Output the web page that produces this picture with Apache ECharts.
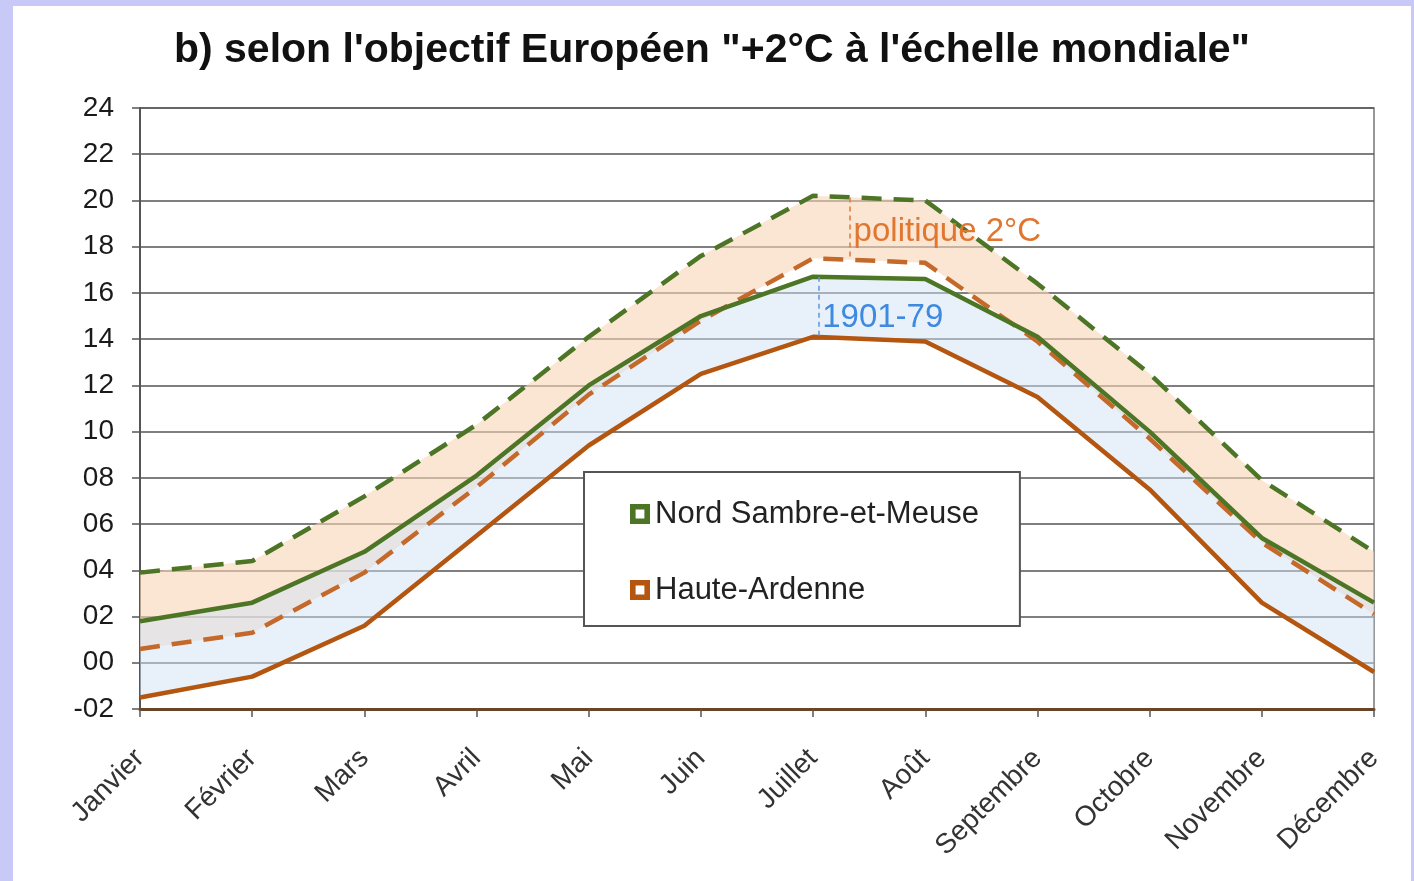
<!DOCTYPE html>
<html>
<head>
<meta charset="utf-8">
<title>Températures mensuelles</title>
<script src="https://cdn.jsdelivr.net/npm/echarts@6/dist/echarts.min.js"></script>
<style>
  html, body { margin: 0; padding: 0; background: #c9c9f7; }
  #main { position: absolute; left: 13px; top: 6px; width: 1398px; height: 875px; background: #fff; }
</style>
</head>
<body>
<div id="main"></div>
<script>
// mois et valeurs (°C)
var mois = ['Janvier', 'Février', 'Mars', 'Avril', 'Mai', 'Juin', 'Juillet', 'Août', 'Septembre', 'Octobre', 'Novembre', 'Décembre'];
var nordRef  = [1.8, 2.6, 4.8, 8.1, 12.0, 15.0, 16.7, 16.6, 14.1, 10.0, 5.4, 2.6];
var hauteRef = [-1.5, -0.6, 1.6, 5.5, 9.4, 12.5, 14.1, 13.9, 11.5, 7.5, 2.6, -0.4];
var nord2C   = [3.9, 4.4, 7.2, 10.3, 14.1, 17.6, 20.2, 20.0, 16.4, 12.5, 7.9, 4.8];
var haute2C  = [0.6, 1.3, 3.9, 7.6, 11.6, 14.8, 17.5, 17.3, 13.9, 9.7, 5.2, 2.1];

var vert = '#4d7526', orange = '#b4560f', orangeTir = '#c4692a';

function ecart(haut, bas) {
  var r = [];
  for (var i = 0; i < haut.length; i++) r.push(Math.round((haut[i] - bas[i]) * 100) / 100);
  return r;
}
function pad(v) {
  var s = String(Math.abs(v));
  if (s.length < 2) s = '0' + s;
  return (v < 0 ? '-' : '') + s;
}

var chart = echarts.init(document.getElementById('main'));
var hole = 'path://M0,0H10V10H0Z M2.8,2.8V7.2H7.2V2.8Z';
var cache = { lineStyle: { opacity: 0 }, symbol: 'none', silent: true };

// repères entre deux mois (axe x continu caché)
var xPolitique = 6.33, xRef = 6.05;

chart.setOption({
  animation: false,
  title: {
    text: 'b) selon l\'objectif Européen "+2°C à l\'échelle mondiale"',
    left: 'center',
    top: 19,
    textStyle: { fontFamily: 'Liberation Sans', fontWeight: 'bold', fontSize: 41, color: '#111' }
  },
  grid: {
    left: 127, right: 37, top: 102, bottom: 172,
    show: true, borderColor: '#777', borderWidth: 1.5, backgroundColor: 'transparent'
  },
  legend: {
    orient: 'vertical',
    left: 571, top: 466,
    padding: [26, 41, 20, 46],
    itemGap: 44,
    itemWidth: 20, itemHeight: 20,
    backgroundColor: '#fff',
    borderColor: '#555', borderWidth: 2,
    textStyle: { fontFamily: 'Liberation Sans', fontSize: 31, color: '#222', lineHeight: 32 },
    data: [
      { name: 'Nord Sambre-et-Meuse', icon: hole },
      { name: 'Haute-Ardenne', icon: hole }
    ]
  },
  xAxis: [{
    type: 'category',
    data: mois,
    boundaryGap: false,
    axisLine: { onZero: false, lineStyle: { color: '#6a4426', width: 3 } },
    axisTick: { show: true, length: 8, lineStyle: { color: '#555', width: 1.5 } },
    axisLabel: { rotate: 45, margin: 45, fontFamily: 'Liberation Sans', fontSize: 28, color: '#333', interval: 0 },
    splitLine: { show: false }
  }, {
    type: 'value', min: 0, max: 11, show: false
  }],
  yAxis: {
    type: 'value',
    min: -2, max: 24, interval: 2,
    axisLine: { show: true, lineStyle: { color: '#555', width: 2 } },
    axisTick: { show: true, length: 8, lineStyle: { color: '#555', width: 1.5 } },
    axisLabel: { formatter: pad, margin: 26, fontFamily: 'Liberation Sans', fontSize: 28, color: '#1a1a1a' },
    splitLine: { lineStyle: { color: '#555', width: 1.5 } }
  },
  series: [
    Object.assign({ name: 'base2C', type: 'line', stack: 'p', stackStrategy: 'all', data: haute2C }, cache),
    Object.assign({ name: 'bande2C', type: 'line', stack: 'p', stackStrategy: 'all', data: ecart(nord2C, haute2C),
      areaStyle: { color: 'rgba(248,212,182,0.6)', opacity: 1 } }, cache),
    {
      name: 'Haute-Ardenne +2°C', type: 'line', data: haute2C, symbol: 'none', silent: true,
      lineStyle: { color: orangeTir, width: 4.5, type: [20, 12] }
    },
    {
      name: 'Nord Sambre-et-Meuse +2°C', type: 'line', data: nord2C, symbol: 'none', silent: true,
      lineStyle: { color: vert, width: 4.5, type: [20, 12] }
    },
    Object.assign({ name: 'baseRef', type: 'line', stack: 'r', stackStrategy: 'all', data: hauteRef }, cache),
    Object.assign({ name: 'bandeRef', type: 'line', stack: 'r', stackStrategy: 'all', data: ecart(nordRef, hauteRef),
      areaStyle: { color: 'rgba(209,227,245,0.5)', opacity: 1 } }, cache),
    {
      name: 'Nord Sambre-et-Meuse', type: 'line', data: nordRef, symbol: 'none',
      itemStyle: { color: vert },
      lineStyle: { color: vert, width: 4.5 }
    },
    {
      name: 'Haute-Ardenne', type: 'line', data: hauteRef, symbol: 'none',
      itemStyle: { color: orange },
      lineStyle: { color: orange, width: 4.5 }
    },
    {
      // annotations placées sur l'axe x continu
      name: 'annotations', type: 'line', xAxisIndex: 1, silent: true,
      data: [[xRef, hauteRef[6]]], symbol: 'none', lineStyle: { opacity: 0 },
      markLine: {
        symbol: ['none', 'none'], silent: true, label: { show: false },
        data: [
          [{ coord: [xRef, nordRef[6]], lineStyle: { color: '#5b9be0', width: 1.5, type: [5, 4] } },
           { coord: [xRef, hauteRef[6]] }],
          [{ coord: [xPolitique, (nord2C[6] * 2 + nord2C[7]) / 3], lineStyle: { color: '#e07b39', width: 1.5, type: [5, 4] } },
           { coord: [xPolitique, (haute2C[6] * 2 + haute2C[7]) / 3] }]
        ]
      },
      markPoint: {
        symbol: 'circle', symbolSize: 1, itemStyle: { color: 'transparent' }, silent: true,
        label: { show: true, position: 'right', distance: 3, fontFamily: 'Liberation Sans', fontSize: 33 },
        data: [
          { coord: [xPolitique, 18.65], label: { formatter: 'politique 2°C', color: '#e07630' } },
          { coord: [xRef, 14.93], label: { formatter: '1901-79', color: '#3d8ae0' } }
        ]
      }
    }
  ]
});
</script>
</body>
</html>
